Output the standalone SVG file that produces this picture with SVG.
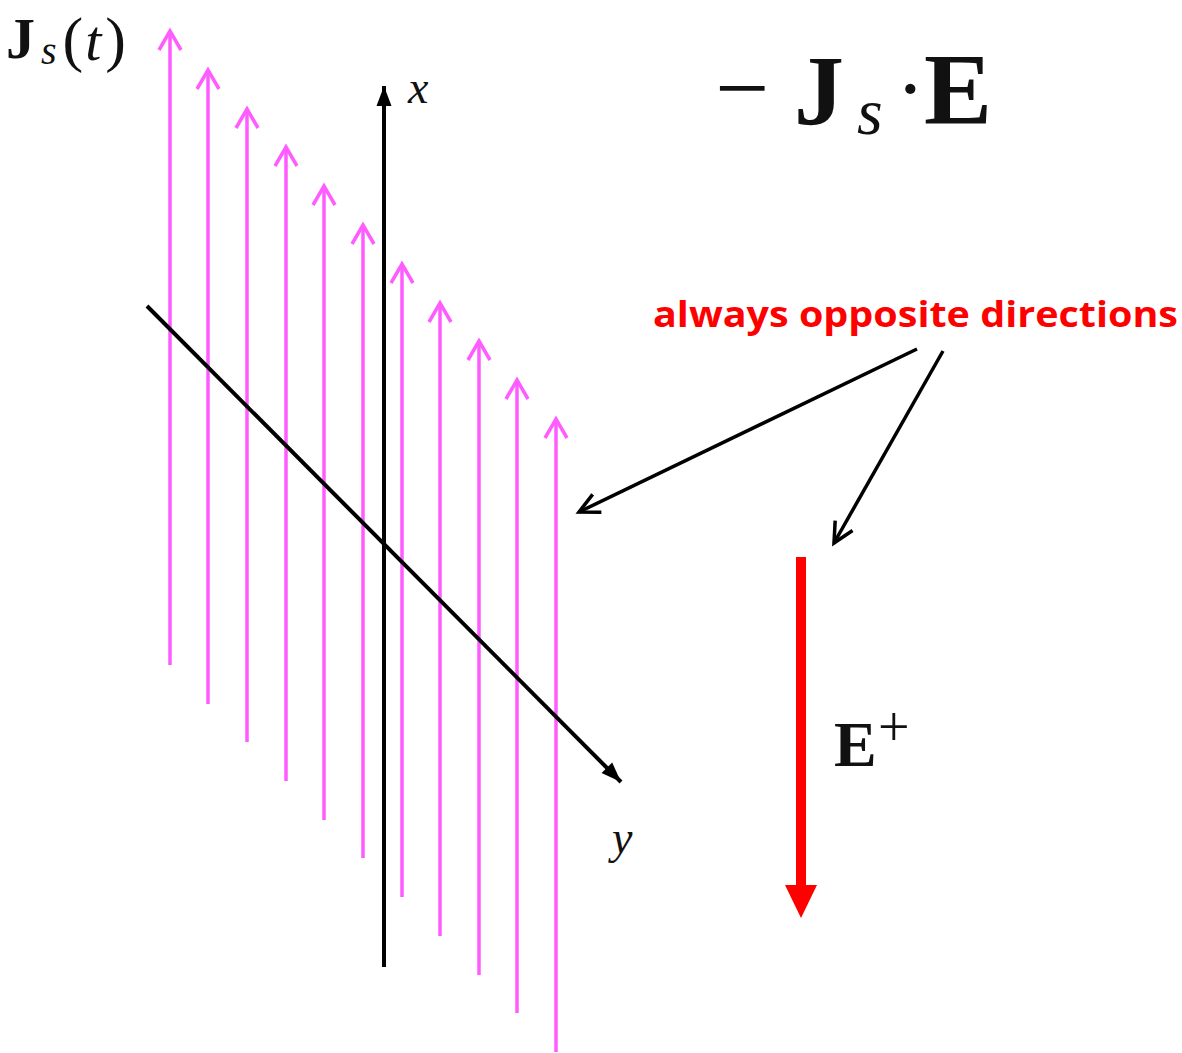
<svg xmlns="http://www.w3.org/2000/svg" width="1182" height="1053" viewBox="0 0 1182 1053">
<style>
.mag{stroke:#ff5cff;stroke-width:3.5;fill:none;marker-end:url(#chev)}
.math{font-family:"Liberation Serif","DejaVu Serif",serif;fill:#111}
.b{font-weight:bold}
.i{font-style:italic}
.ax{stroke:#000;stroke-width:4;fill:none}
.call{stroke:#000;stroke-width:3.5;fill:none;marker-end:url(#open)}
</style>
<defs>
<marker id="chev" markerUnits="userSpaceOnUse" viewBox="-22 -13 24 26" refX="0" refY="0" markerWidth="24" markerHeight="26" orient="auto" overflow="visible">
<path d="M-19,-11 L0,0 L-19,11" fill="none" stroke="#ff5cff" stroke-width="3.5"/>
</marker>
<marker id="tri" markerUnits="userSpaceOnUse" viewBox="-22 -8 24 16" refX="0" refY="0" markerWidth="24" markerHeight="16" orient="auto" overflow="visible">
<path d="M-20,-7.5 L0,0 L-20,7.5 Z" fill="#000"/>
</marker>
<marker id="open" markerUnits="userSpaceOnUse" viewBox="-22 -12 24 24" refX="0" refY="0" markerWidth="24" markerHeight="24" orient="auto" overflow="visible">
<path d="M-20,-10 L0,0 L-20,10" fill="none" stroke="#000" stroke-width="3.5"/>
</marker>
</defs>
<g id="currents">
<line class="mag" x1="170" y1="665" x2="170" y2="31"/>
<line class="mag" x1="208" y1="704" x2="208" y2="70"/>
<line class="mag" x1="247" y1="742" x2="247" y2="109"/>
<line class="mag" x1="286" y1="781" x2="286" y2="147"/>
<line class="mag" x1="324" y1="820" x2="324" y2="186"/>
<line class="mag" x1="363" y1="858" x2="363" y2="225"/>
<line class="mag" x1="402" y1="897" x2="402" y2="264"/>
<line class="mag" x1="440" y1="936" x2="440" y2="303"/>
<line class="mag" x1="479" y1="975" x2="479" y2="341"/>
<line class="mag" x1="517" y1="1013" x2="517" y2="380"/>
<line class="mag" x1="556" y1="1052" x2="556" y2="419"/>
</g>
<g id="axes">
<line class="ax" x1="384" y1="967" x2="384" y2="86" marker-end="url(#tri)"/>
<line class="ax" x1="147" y1="306" x2="621" y2="782" marker-end="url(#tri)"/>
</g>
<g id="labels">
<text class="math" x="6" y="58" font-size="58"><tspan class="b">J</tspan><tspan class="i" font-size="40" dx="6" dy="6">s</tspan><tspan font-size="62" dx="6" dy="-4">(</tspan><tspan class="i" dx="2">t</tspan><tspan font-size="62" dx="4">)</tspan></text>
<text class="math i" x="408" y="103" font-size="46">x</text>
<text class="math i" x="612" y="853" font-size="46">y</text>
<text class="math" x="715" y="120" font-size="96">−</text>
<text class="math b" x="794" y="124" font-size="100">J</text>
<text class="math i" x="857" y="134" font-size="66">s</text>
<text class="math" x="896" y="118" font-size="86">·</text>
<text class="math b" x="924" y="124" font-size="102">E</text>
<text class="math b" x="834" y="766" font-size="64">E</text>
<text class="math" x="878" y="746" font-size="56">+</text>
</g>
<g id="efield">
<line x1="801" y1="557" x2="801" y2="888" stroke="#ff0000" stroke-width="10"/>
<path d="M785,885 L817,885 L801,918 Z" fill="#ff0000"/>
</g>
<g id="note">
<text x="653" y="327" font-family="'Open Sans','Liberation Sans',sans-serif" font-weight="bold" font-size="36" fill="#ff0000" textLength="525" lengthAdjust="spacingAndGlyphs">always opposite directions</text>
</g>
<g id="connectors">
<line class="call" x1="917" y1="349" x2="579" y2="512"/>
<line class="call" x1="943" y1="351" x2="834" y2="543"/>
</g>
</svg>
